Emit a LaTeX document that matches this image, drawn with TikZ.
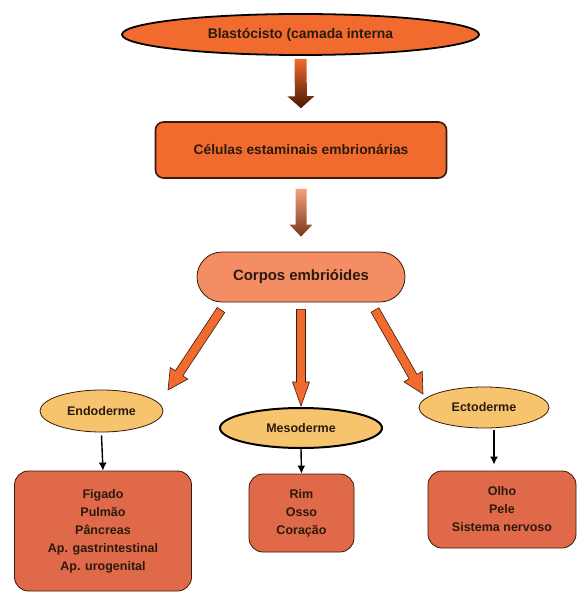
\documentclass[tikz,border=0pt]{standalone}
\usepackage{fontspec}
\setmainfont{Liberation Sans}
\usetikzlibrary{shapes.geometric,shapes.misc,calc,arrows.meta}
\definecolor{orA}{HTML}{F26B2E}
\definecolor{salm}{HTML}{F48C64}
\definecolor{boxc}{HTML}{E0694A}
\definecolor{ellc}{HTML}{F7C46E}
\definecolor{txt}{HTML}{2B1A0E}
\definecolor{edge}{HTML}{3A1A0A}
\newcommand\barrow[6]{%
  \coordinate (ba-H) at ($(#3)!#6!(#2)$);
  \path[#1] ($(#2)!#4!90:(#3)$) -- ($(ba-H)!#4!90:(#3)$) -- ($(ba-H)!#5!90:(#3)$) -- (#3)
    -- ($(ba-H)!#5!-90:(#3)$) -- ($(ba-H)!#4!-90:(#3)$) -- ($(#2)!#4!-90:(#3)$) -- cycle;}
\tikzset{
  lbl/.style={text=txt,font=\bfseries,inner sep=0pt,align=center},
  ell/.style={ellipse,draw=edge,fill=ellc,line width=0.8pt,lbl,font=\fontsize{12.5}{15}\bfseries},
  lowbox/.style={rectangle,rounded corners=14pt,draw=edge,fill=boxc,line width=0.8pt,lbl,font=\fontsize{12.5}{18}\bfseries},
  orarrow/.style={fill=orA,draw=edge,line width=0.6pt},
  blk/.style={-{Latex[length=8pt,width=8pt]},line width=1.4pt,black}
}
\begin{document}
\begin{tikzpicture}[x=1pt,y=-1pt]
\useasboundingbox[fill=white] (0,0) rectangle (584,596);
\node[ellipse,draw=black,fill=orA,line width=1.8pt,minimum width=357pt,minimum height=41pt,lbl,font=\fontsize{13.9}{16}\bfseries] (blast) at (300.5,34.5) {Blastócisto (camada interna};
\node[rectangle,rounded corners=8pt,draw=edge,fill=orA,line width=1.6pt,minimum width=291pt,minimum height=56pt,lbl,font=\fontsize{13.8}{16}\bfseries] (cel) at (301,150) {Células estaminais embrionárias};
\node[rounded rectangle,draw=edge,fill=salm,line width=0.8pt,minimum width=208pt,minimum height=50pt,lbl,font=\fontsize{14.9}{17}\bfseries] (corpos) at (301,277) {Corpos embrióides};
\node[ell,minimum width=123pt,minimum height=42pt] (endo) at (101.5,411) {Endoderme};
\node[ell,line width=2pt,draw=black,minimum width=162pt,minimum height=40pt] (meso) at (301,428) {Mesoderme};
\node[ell,minimum width=130pt,minimum height=41pt] (ecto) at (484,407.5) {Ectoderme};
\node[lowbox,minimum width=177pt,minimum height=120pt] (bendo) at (103,531) {Figado\\Pulmão\\Pâncreas\\Ap. gastrintestinal\\Ap. urogenital};
\node[lowbox,minimum width=105pt,minimum height=78pt] (bmeso) at (301.5,513) {Rim\\Osso\\Coração};
\node[lowbox,minimum width=148pt,minimum height=77pt] (becto) at (502,509.5) {Olho\\Pele\\Sistema nervoso};
% gradient arrows
\coordinate (a1s) at ([yshift=-3pt]blast.south);
\coordinate (a1e) at ([yshift=13pt]cel.north);
\barrow{shade,top color=orA,bottom color={rgb,255:red,70;green,25;blue,5},draw=none}{a1s}{a1e}{6pt}{13.5pt}{12pt}
\coordinate (a2s) at ([yshift=-10pt]cel.south);
\coordinate (a2e) at ([yshift=15pt]corpos.north);
\barrow{shade,top color={rgb,255:red,246;green,160;blue,125},bottom color={rgb,255:red,120;green,55;blue,30},draw=none}{a2s}{a2e}{5.5pt}{11.5pt}{12pt}
% orange arrows
\coordinate (l1s) at (221,310);
\coordinate (l1e) at (168,390);
\barrow{orarrow}{l1s}{l1e}{4.5pt}{10.5pt}{20pt}
\coordinate (m1s) at ([yshift=-7pt]corpos.south);
\coordinate (m1e) at ([yshift=1pt]meso.north);
\barrow{orarrow}{m1s}{m1e}{4.5pt}{8.5pt}{24pt}
\coordinate (r1s) at (375,310);
\coordinate (r1e) at (423,394);
\barrow{orarrow}{r1s}{r1e}{4.5pt}{10.5pt}{20pt}
% black arrows
\draw[blk] ([yshift=-3pt]endo.south) -- (bendo.north);
\draw[blk] (meso.south) -- (bmeso.north);
\draw[blk] ([yshift=-2pt]ecto.south -| 494,0) -- ([yshift=6pt]becto.north -| 494,0);
\end{tikzpicture}
\end{document}
